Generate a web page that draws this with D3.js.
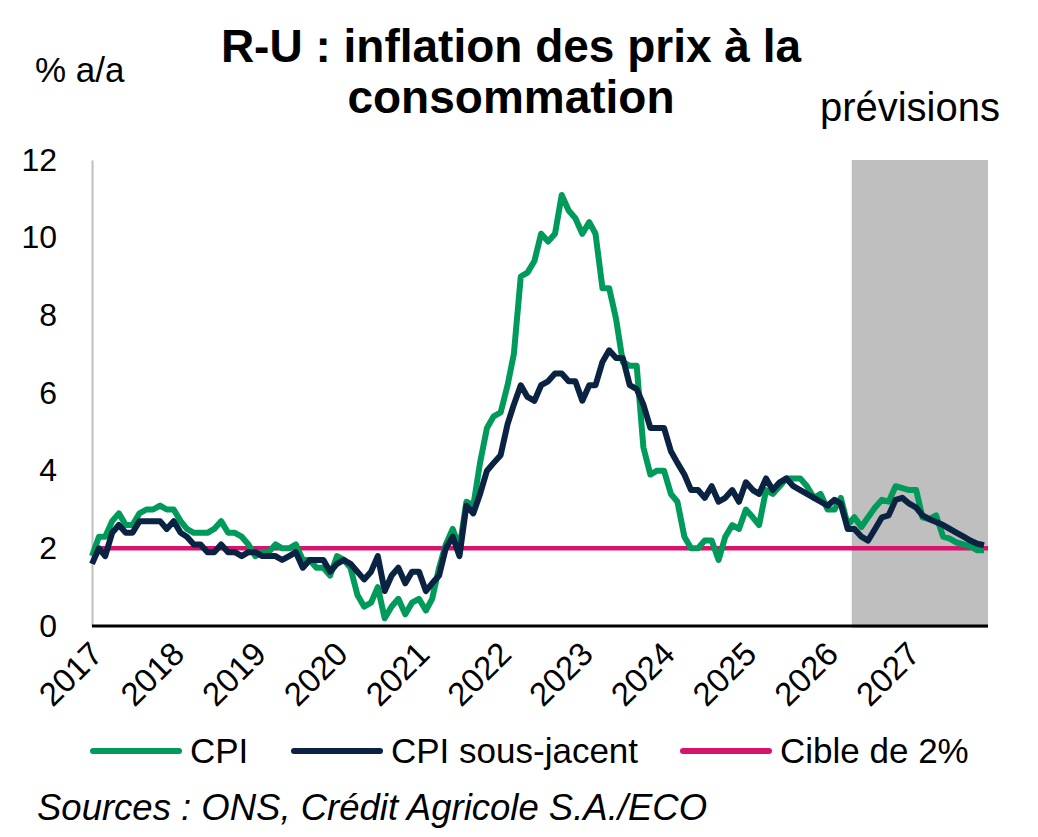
<!DOCTYPE html>
<html>
<head>
<meta charset="utf-8">
<script src="https://cdn.jsdelivr.net/npm/d3@7"></script>
<style>
  body { margin: 0; background: #fff; }
  text { font-family: "Liberation Sans", Arial, sans-serif; }
</style>
</head>
<body>
<div id="container"></div>
<script>
// monthly values, Jan 2017 -> Dec 2027
let startMonth = new Date(2017, 0, 1);
let forecastStart = new Date(2026, 3, 19);

let cpi = [
  1.8, 2.3, 2.3, 2.7, 2.9, 2.6, 2.6, 2.9, 3.0, 3.0, 3.1, 3.0,
  3.0, 2.7, 2.5, 2.4, 2.4, 2.4, 2.5, 2.7, 2.4, 2.4, 2.3, 2.1,
  1.8, 1.9, 1.9, 2.1, 2.0, 2.0, 2.1, 1.7, 1.7, 1.5, 1.5, 1.3,
  1.8, 1.7, 1.5, 0.8, 0.5, 0.6, 1.0, 0.2, 0.5, 0.7, 0.3, 0.6,
  0.7, 0.4, 0.7, 1.5, 2.1, 2.5, 2.0, 3.2, 3.1, 4.2, 5.1, 5.4,
  5.5, 6.2, 7.0, 9.0, 9.1, 9.4, 10.1, 9.9, 10.1, 11.1, 10.7, 10.5,
  10.1, 10.4, 10.1, 8.7, 8.7, 7.9, 6.8, 6.7, 6.7, 4.6, 3.9, 4.0,
  4.0, 3.4, 3.2, 2.3, 2.0, 2.0, 2.2, 2.2, 1.7, 2.3, 2.6, 2.5,
  3.0, 2.8, 2.6, 3.5, 3.4, 3.6, 3.8, 3.8, 3.8, 3.6, 3.3, 3.4,
  3.0, 3.0, 3.3, 2.6, 2.8, 2.55, 2.8, 3.05, 3.25, 3.2, 3.6, 3.55,
  3.5, 3.5, 2.8, 2.75, 2.85, 2.3, 2.25, 2.15, 2.1, 2.05, 1.95, 1.95
];

let coreCpi = [
  1.6, 2.0, 1.8, 2.4, 2.6, 2.4, 2.4, 2.7, 2.7, 2.7, 2.7, 2.5,
  2.7, 2.4, 2.3, 2.1, 2.1, 1.9, 1.9, 2.1, 1.9, 1.9, 1.8, 1.9,
  1.9, 1.8, 1.8, 1.8, 1.7, 1.8, 1.9, 1.5, 1.7, 1.7, 1.7, 1.4,
  1.6, 1.7, 1.6, 1.4, 1.2, 1.4, 1.8, 0.9, 1.3, 1.5, 1.1, 1.4,
  1.4, 0.9, 1.1, 1.3, 2.0, 2.3, 1.8, 3.1, 2.9, 3.4, 4.0, 4.2,
  4.4, 5.2, 5.7, 6.2, 5.9, 5.8, 6.2, 6.3, 6.5, 6.5, 6.3, 6.3,
  5.8, 6.2, 6.2, 6.8, 7.1, 6.9, 6.9, 6.2, 6.1, 5.7, 5.1, 5.1,
  5.1, 4.5, 4.2, 3.9, 3.5, 3.5, 3.3, 3.6, 3.2, 3.3, 3.5, 3.2,
  3.7, 3.5, 3.4, 3.8, 3.5, 3.7, 3.8, 3.6, 3.5, 3.4, 3.3, 3.2,
  3.1, 3.25, 3.15, 2.5, 2.5, 2.3, 2.2, 2.5, 2.8, 2.85, 3.25, 3.3,
  3.15, 3.05, 2.85, 2.75, 2.68, 2.6, 2.5, 2.4, 2.3, 2.2, 2.12, 2.08
];

let target = 2;
let yTicks = [0, 2, 4, 6, 8, 10, 12];
let legendNames = ["CPI", "CPI sous-jacent", "Cible de 2%"];

let w = 1038;
let h = 837;
let plotLeft = 92, plotRight = 984, plotTop = 160, plotBottom = 626;

let GREEN = "#009A5B";
let NAVY = "#0A2342";
let PINK = "#D6146B";
let GREY = "#BFBFBF";

let months = cpi.map((d, i) => d3.timeMonth.offset(startMonth, i));

let viz = d3.select('#container')
  .append('svg')
  .attr('width', w)
  .attr('height', h);

let xScale = d3.scaleTime()
  .domain([months[0], months[months.length - 1]])
  .range([plotLeft, plotRight]);

let yScale = d3.scaleLinear()
  .domain([0, 12])
  .range([plotBottom, plotTop]);

// forecast band
viz.append('rect')
  .attr('x', xScale(forecastStart))
  .attr('y', plotTop)
  .attr('width', plotRight + 4 - xScale(forecastStart))
  .attr('height', plotBottom + 2 - plotTop)
  .attr('fill', GREY);

viz.append('text')
  .attr('x', 1000)
  .attr('y', 121)
  .attr('text-anchor', 'end')
  .attr('font-size', 40)
  .text('prévisions');

// y axis
let yAxis = d3.axisLeft(yScale).tickValues(yTicks).tickSize(0).tickPadding(35);
let yAxisGroup = viz.append('g')
  .attr('transform', `translate(${plotLeft},0)`)
  .call(yAxis);
yAxisGroup.select('.domain').attr('stroke', GREY).attr('stroke-width', 2);
yAxisGroup.selectAll('text')
  .attr('font-size', 32)
  .attr('fill', '#000');

// x axis
let xAxis = d3.axisBottom(xScale)
  .ticks(d3.timeYear.every(1))
  .tickFormat(d3.timeFormat('%Y'))
  .tickSize(0);
let xAxisGroup = viz.append('g')
  .attr('transform', `translate(0,${plotBottom})`)
  .call(xAxis);
xAxisGroup.select('.domain')
  .attr('d', `M${plotLeft},0H${plotRight + 4}`)
  .attr('stroke', '#000')
  .attr('stroke-width', 3);
xAxisGroup.selectAll('text')
  .attr('font-size', 33)
  .attr('fill', '#000')
  .attr('text-anchor', 'end')
  .attr('dy', 0)
  .attr('transform', 'translate(10,28) rotate(-45)');

// target line
viz.append('line')
  .attr('x1', plotLeft)
  .attr('x2', plotRight + 4)
  .attr('y1', yScale(target))
  .attr('y2', yScale(target))
  .attr('stroke', PINK)
  .attr('stroke-width', 4.5);

// series
let line = d3.line()
  .x((d, i) => xScale(months[i]))
  .y(d => yScale(d));

viz.append('path')
  .datum(cpi)
  .attr('d', line)
  .attr('fill', 'none')
  .attr('stroke', GREEN)
  .attr('stroke-width', 6)
  .attr('stroke-linejoin', 'round');

viz.append('path')
  .datum(coreCpi)
  .attr('d', line)
  .attr('fill', 'none')
  .attr('stroke', NAVY)
  .attr('stroke-width', 6)
  .attr('stroke-linejoin', 'round');

// titles
viz.append('text')
  .attr('x', 511)
  .attr('y', 62)
  .attr('text-anchor', 'middle')
  .attr('font-size', 46)
  .attr('font-weight', 'bold')
  .text('R-U : inflation des prix à la');
viz.append('text')
  .attr('x', 511)
  .attr('y', 113)
  .attr('text-anchor', 'middle')
  .attr('font-size', 46)
  .attr('font-weight', 'bold')
  .text('consommation');

viz.append('text')
  .attr('x', 35)
  .attr('y', 82)
  .attr('font-size', 35)
  .text('% a/a');

// legend
let legendColors = [GREEN, NAVY, PINK];
let legendX = [93, 294, 683];
let legend = viz.selectAll('.legendItem')
  .data(legendNames)
  .enter()
  .append('g')
  .classed('legendItem', true)
  .attr('transform', (d, i) => `translate(${legendX[i]},751)`);
legend.append('line')
  .attr('x1', 0).attr('x2', 86)
  .attr('y1', 0).attr('y2', 0)
  .attr('stroke', (d, i) => legendColors[i])
  .attr('stroke-width', 6)
  .attr('stroke-linecap', 'round');
legend.append('text')
  .attr('x', 97)
  .attr('y', 12)
  .attr('font-size', 35)
  .text(d => d);

viz.append('text')
  .attr('x', 37)
  .attr('y', 820)
  .attr('font-size', 36.5)
  .attr('font-style', 'italic')
  .text('Sources : ONS, Crédit Agricole S.A./ECO');
</script>
</body>
</html>
